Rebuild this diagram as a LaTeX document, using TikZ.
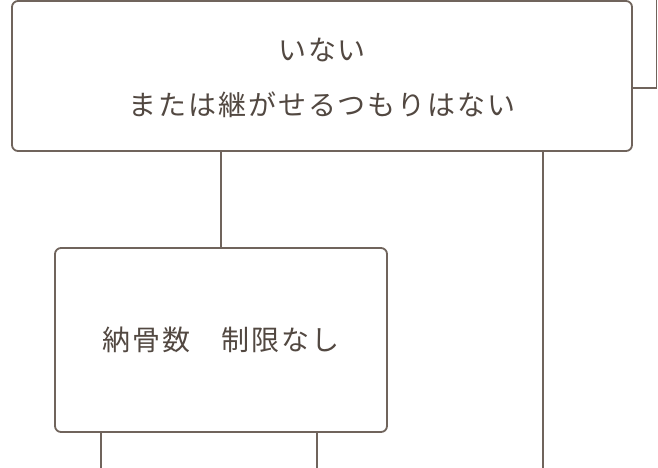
\documentclass[tikz,border=0pt]{standalone}
\usepackage{fontspec}
\usepackage{tikz}
\newfontfamily\jpfont[LetterSpace=7]{Noto Sans CJK JP}
\definecolor{linebrown}{RGB}{112,100,92}
\definecolor{textbrown}{RGB}{82,72,65}

\begin{document}
\begin{tikzpicture}[x=1pt,y=-1pt,
        box/.style={draw=linebrown,line width=1.8pt,rounded corners=6pt,fill=white,
            text=textbrown,align=center,inner sep=0pt,text depth=0pt,
            font=\jpfont\fontsize{28pt}{55pt}\selectfont},
        link/.style={draw=linebrown,line width=1.8pt}]
        \useasboundingbox (0,0) rectangle (658,467);

        \node[box,minimum width=620pt,minimum height=150pt,text height=79.2pt] at (322,76) (top) {いない\\または継がせるつもりはない};
        \node[box,minimum width=332pt,minimum height=184pt,text height=21.2pt] at (221,340) (kotsu) {納骨数　制限なし};

        \coordinate (up) at (656.5,-2);
        \coordinate (down1) at (543,469);
        \coordinate (down2) at (101,469);
        \coordinate (down3) at (317,469);

        \path[link]
        (top.east) ++(0,12) -| (up)
        (kotsu.north) -- (kotsu.north |- top.south)
        (down1 |- top.south) -- (down1)
        (down2 |- kotsu.south) -- (down2)
        (down3 |- kotsu.south) -- (down3)
        ;
    \end{tikzpicture}
\end{document}
